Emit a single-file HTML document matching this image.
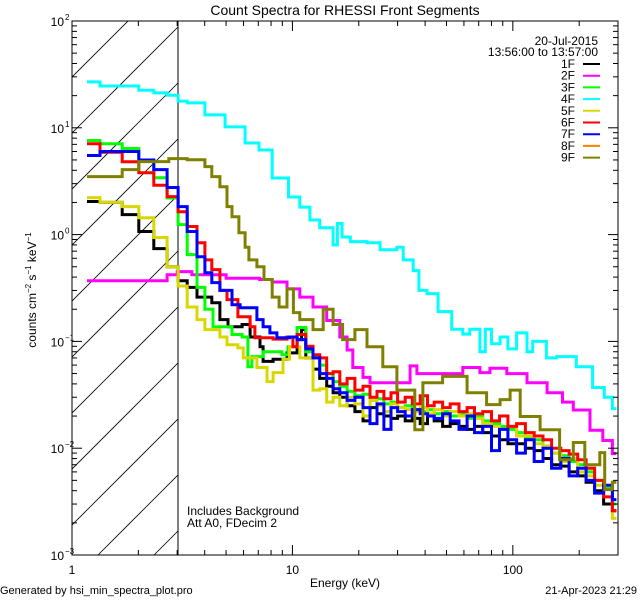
<!DOCTYPE html>
<html>
<head>
<meta charset="utf-8">
<style>
  html,body{margin:0;padding:0;background:#fff;}
  body{width:640px;height:600px;overflow:hidden;font-family:"Liberation Sans",sans-serif;}
  svg text{font-family:"Liberation Sans",sans-serif;fill:#000;}
</style>
</head>
<body>
<svg id="chart" width="640" height="600" viewBox="0 0 640 600" xmlns="http://www.w3.org/2000/svg">
  <rect x="0" y="0" width="640" height="600" fill="#fff"/>
  <text x="345" y="15" font-size="14" text-anchor="middle">Count Spectra for RHESSI Front Segments</text>
  <defs><clipPath id="plotclip"><rect x="72" y="21" width="546" height="534"/></clipPath></defs>
  <g id="hatch" clip-path="url(#plotclip)"></g>
  <line x1="178" y1="21" x2="178" y2="555" stroke="#000" stroke-width="1"/>
  <g id="series" clip-path="url(#plotclip)"></g>
  <rect x="72" y="21" width="546" height="534" fill="none" stroke="#000" stroke-width="1"/>
  <g id="axes"></g>
  <text x="345" y="587" font-size="12" text-anchor="middle">Energy (keV)</text>
  <text transform="translate(36,290) rotate(-90)" font-size="12" text-anchor="middle">counts cm<tspan font-size="8" dy="-5">−2</tspan><tspan dy="5"> s</tspan><tspan font-size="8" dy="-5">−1</tspan><tspan dy="5"> keV</tspan><tspan font-size="8" dy="-5">−1</tspan></text>
  <text x="187" y="515" font-size="12">Includes Background</text>
  <text x="187" y="527" font-size="12">Att A0, FDecim 2</text>
  <text x="0" y="594" font-size="11">Generated by hsi_min_spectra_plot.pro</text>
  <text x="637" y="594" font-size="11" text-anchor="end">21-Apr-2023 21:29</text>
  <text x="598" y="45" font-size="12" text-anchor="end">20-Jul-2015</text>
  <text x="598" y="56" font-size="12" text-anchor="end">13:56:00 to 13:57:00</text>
  <g id="legend"></g>
</svg>
<script>
const seriesNames = ["1F","2F","3F","4F","5F","6F","7F","8F","9F"];
const seriesColors = ["#000000","#ff00ff","#00ff00","#00ffff","#d8d800","#ff0000","#0000ff","#ff8000","#808000"];
const xTickMajor = [1,10,100];
const xTickLabels = ["1","10","100"];
const yTickExps = [-3,-2,-1,0,1,2];

const eHigh = [11.5,12.4,13.3,14.3,15.3,16.4,17.7,19.2,20.9,22.5,24.2,26.0,28.0,30.0,32.5,35.0,38.0,41.0,44.0,48.0,52.0,57.0,62.0,67.0,73.0,80.0,87.0,95.0,104,114,125,137,150,165,180,197,215,235,258,283];

const e1F = [1.17,1.34,1.69,2.01,2.35,2.70,3.03,3.33,3.69,4.31,4.69,5.1,5.91,6.43,7.13,7.36,8.17,9.45,10.5,11.0];
const v1F = [2.04,2.0,1.54,1.07,0.74,0.5,0.37,0.32,0.26,0.23,0.16,0.137,0.144,0.11,0.089,0.065,0.068,0.078,0.104,0.129,
  0.07,0.055,0.045,0.038,0.033,0.03,0.025,0.022,0.018,0.024,0.021,0.02,0.019,0.02,0.018,0.019,0.017,0.02,0.018,0.016,0.017,0.016,0.015,0.016,0.014,0.013,0.012,0.011,0.011,0.01,0.0095,0.008,0.007,0.0068,0.006,0.0055,0.0048,0.004,0.003,0.0026];

const e2F = [1.17,2.7,3.0,3.5,5,7.1,8.1,9.45,10.8,12.4,14.3,16.4,17.7,18.8,20.9,22.5,28.6,34.2,36.7,50.3,59.3,70.9,78.7,93.9,116,143,168,188,224,256,283];
const v2F = [0.37,0.42,0.45,0.42,0.39,0.38,0.36,0.31,0.26,0.21,0.157,0.11,0.083,0.057,0.046,0.041,0.041,0.059,0.05,0.05,0.057,0.051,0.056,0.05,0.041,0.033,0.027,0.0228,0.0147,0.0118,0.0089];

const e3F = [1.17,1.34,1.69,2.01,2.35,2.70,3.03,3.33,3.69,4.01,4.36,5.32,5.91,6.28,6.55,7.36,8.96,9.55,10.5];
const v3F = [7.6,7.1,6.4,5.0,3.4,2.2,1.24,0.65,0.32,0.2,0.137,0.116,0.11,0.058,0.072,0.08,0.075,0.089,0.135,
  0.08,0.07,0.06,0.05,0.042,0.038,0.034,0.031,0.032,0.028,0.029,0.026,0.027,0.024,0.025,0.023,0.022,0.023,0.021,0.022,0.02,0.021,0.019,0.02,0.018,0.017,0.016,0.015,0.014,0.0125,0.012,0.01,0.009,0.0085,0.0075,0.007,0.006,0.005,0.0042,0.003];

const e4F = [1.17,1.34,2.01,2.35,2.70,3.03,3.33,4.01,4.95,6.1,7.05,8.1,9.6,10.8,12.0,13.3,15.3,16.0,16.8,18.3,21.8,25.0,29.8,31.8,35.3,37.5,40.8,45.8,52.8,59.3,63.8,70.9,75,80,87.5,95,104,116,123,142,158,194,230,260,283];
const v4F = [26.9,24.6,22.5,21.2,20.2,17.8,17.1,13.2,10.2,7.2,6.2,3.39,2.25,1.81,1.37,1.16,0.8,1.27,0.95,0.86,0.84,0.72,0.76,0.58,0.46,0.3,0.28,0.19,0.13,0.117,0.13,0.08,0.13,0.095,0.11,0.085,0.12,0.08,0.1,0.07,0.072,0.058,0.037,0.03,0.0235];

const e5F = [1.17,1.34,1.69,2.01,2.35,2.70,3.03,3.33,3.69,4.01,4.69,5.05,5.66,5.98,6.9,7.67,8.17,9.06,9.7,10.8];
const v5F = [2.22,2.0,1.83,1.44,0.94,0.5,0.33,0.21,0.16,0.129,0.11,0.093,0.087,0.07,0.057,0.042,0.051,0.068,0.089,0.07,
  0.07,0.035,0.036,0.027,0.03,0.025,0.03,0.026,0.02,0.028,0.025,0.022,0.026,0.024,0.023,0.022,0.024,0.021,0.023,0.02,0.022,0.02,0.021,0.019,0.017,0.016,0.015,0.016,0.013,0.013,0.011,0.0105,0.009,0.0075,0.008,0.006,0.0055,0.0045,0.0035,0.0022];

const e6F = [1.17,1.34,1.69,2.01,2.35,2.70,3.03,3.33,3.69,4.01,4.31,4.69,5.05,5.66,6.43,6.76,8.17,9.45,10.05,10.5];
const v6F = [7.1,5.9,4.8,3.8,2.9,2.27,1.64,1.19,0.84,0.58,0.47,0.3,0.246,0.17,0.137,0.108,0.105,0.11,0.089,0.116,
  0.09,0.075,0.07,0.05,0.052,0.04,0.045,0.035,0.038,0.03,0.034,0.029,0.033,0.027,0.03,0.026,0.031,0.025,0.027,0.024,0.026,0.022,0.024,0.021,0.022,0.018,0.02,0.016,0.017,0.014,0.013,0.012,0.01,0.0095,0.0088,0.0078,0.0065,0.005,0.0035,0.0026];

const e7F = [1.17,1.34,2.01,2.35,2.70,3.03,3.33,3.69,4.01,4.31,4.69,5.32,5.79,6.9,7.36,7.9,8.5,9.7,10.5];
const v7F = [5.5,6.0,5.0,4.06,2.76,1.83,1.07,0.62,0.44,0.355,0.3,0.22,0.207,0.16,0.137,0.12,0.108,0.11,0.104,
  0.085,0.07,0.05,0.045,0.036,0.033,0.028,0.03,0.024,0.017,0.026,0.015,0.024,0.022,0.02,0.023,0.021,0.02,0.019,0.021,0.018,0.015,0.02,0.014,0.016,0.0095,0.015,0.012,0.009,0.012,0.0075,0.01,0.0065,0.008,0.0055,0.0065,0.005,0.0038,0.0045,0.0033];

const e8F = [];
const v8F = [];

const e9F = [1.17,1.69,2.01,2.75,3.33,4.01,4.31,4.69,5.05,5.32,5.72,6.1,6.35,6.9,7.43,8.1,8.7,9.45,10.1,10.8,12.4,13.8,15.3,16.9,19.2,21.8,25.7,29.8,35.9,39.1,48.0,62.0,76.0,87.5,97.2,108,133,163,188,212,248,261,283];
const v9F = [3.49,4.06,4.83,5.15,5.03,4.33,3.49,2.81,1.83,1.47,1.04,0.76,0.58,0.50,0.38,0.26,0.21,0.31,0.186,0.16,0.129,0.2,0.144,0.104,0.129,0.089,0.058,0.035,0.0149,0.041,0.047,0.033,0.0256,0.0285,0.035,0.0198,0.0149,0.0078,0.0113,0.0070,0.0091,0.0041,0.0048];

const X0=72, X1=618, Y0=21, Y1=555;
const LXMAX = Math.log10(300);
function xs(e){ return X0 + Math.log10(e)/LXMAX*(X1-X0); }
function ys(v){ return Y0 + (2-Math.log10(v))/5*(Y1-Y0); }
const NS="http://www.w3.org/2000/svg";
function mk(tag, attrs, parent){ const el=document.createElementNS(NS,tag); for(const k in attrs) el.setAttribute(k,attrs[k]); parent.appendChild(el); return el; }

// hatch
const hatch=document.getElementById('hatch');
for(let k=-12;k<4;k++){
  const x0=98+56*k;
  const ln=mk('line',{x1:x0,y1:Y1,x2:x0+600,y2:Y1-600,stroke:'#000','stroke-width':0.8},hatch);
  
  
}
mk('rect',{x:178,y:Y0,width:460,height:Y1-Y0,fill:'#fff'},hatch);

// series
const allE=[e1F,e2F,e3F,e4F,e5F,e6F,e7F,e8F,e9F];
const allV=[v1F,v2F,v3F,v4F,v5F,v6F,v7F,v8F,v9F];
const sg=document.getElementById('series');
for(let s=0;s<9;s++){
  let E=allE[s], V=allV[s];
  if(V.length>E.length) E=E.concat(eHigh);
  if(!V.length) continue;
  let d='';
  for(let i=0;i<V.length;i++){
    const xa=xs(E[i]), xb=xs(i+1<E.length?E[i+1]:295), y=ys(V[i]);
    d += (i===0?'M':'L')+xa.toFixed(1)+','+y.toFixed(1)+' L'+xb.toFixed(1)+','+y.toFixed(1)+' ';
  }
  const p=mk('path',{d:d,fill:'none',stroke:seriesColors[s],'stroke-width':3,'stroke-linejoin':'miter'},sg);
  
  
}

// axes ticks
const ax=document.getElementById('axes');
for(let dec=0;dec<3;dec++){
  for(let m=1;m<10;m++){
    const e=m*Math.pow(10,dec); if(e>300) break;
    const x=xs(e), len=(m===1)?10:5;
    const t1=mk('line',{x1:x,y1:Y1,x2:x,y2:Y1-len,stroke:'#000'},ax);
    
    
    const t2=mk('line',{x1:x,y1:Y0,x2:x,y2:Y0+len,stroke:'#000'},ax);
    
    
  }
}
xTickMajor.forEach((e,i)=>{
  const t=mk('text',{x:xs(e),y:574,'font-size':12,'text-anchor':'middle'},ax);
  t.textContent=xTickLabels[i];
  
  
});
yTickExps.forEach(p=>{
  for(let m=1;m<10;m++){
    if(p===2 && m>1) break;
    const y=ys(m*Math.pow(10,p)), len=(m===1)?10:5;
    const a=mk('line',{x1:X0,y1:y,x2:X0+len,y2:y,stroke:'#000'},ax);
    
    
    const b=mk('line',{x1:X1,y1:y,x2:X1-len,y2:y,stroke:'#000'},ax);
    
    
  }
  const t=mk('text',{x:64,y:ys(Math.pow(10,p))+5,'font-size':12,'text-anchor':'end'},ax);
  t.textContent='10';
  
  
  const sup=mk('text',{x:65,y:ys(Math.pow(10,p))-1,'font-size':8},ax);
  sup.textContent=String(p).replace('-','−');
  
  
});

// legend
const lg=document.getElementById('legend');
seriesNames.forEach((n,i)=>{
  const y=64+i*11.7;
  const t=mk('text',{x:575,y:y+4,'font-size':12,'text-anchor':'end'},lg);
  t.textContent=n;
  
  
  const l=mk('line',{x1:583,y1:y,x2:600,y2:y,stroke:seriesColors[i],'stroke-width':2},lg);
  
  
});
</script>
</body>
</html>
